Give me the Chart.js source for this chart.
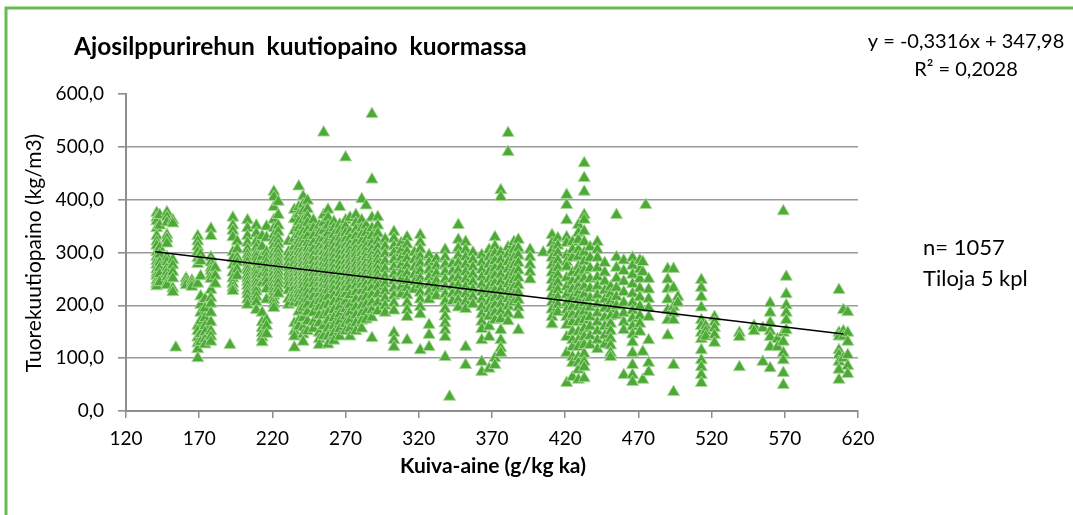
<!DOCTYPE html>
<html lang="fi">
<head>
<meta charset="utf-8">
<title>Ajosilppurirehun kuutiopaino kuormassa</title>
<script src="https://cdn.jsdelivr.net/npm/chart.js@4.4.1/dist/chart.umd.min.js"></script>
<style>
  html, body { margin: 0; padding: 0; background: #fff; }
  #kaavio { display: block; }
</style>
</head>
<body>
<canvas id="kaavio" width="1073" height="515"></canvas>
<script>
// --- DATA (luettu kuvasta) ---
// Jokainen rivi: [kuiva-aine g/kg, kuutiopaino kg/m3, kuutiopaino, ...]
const sarakkeet140_200 = [
  [141, 375, 366, 359, 346, 331, 321, 313, 301, 292, 284, 277, 268, 261, 256, 247, 241, 236],
  [143, 371, 351, 309, 296, 281, 271, 259, 244],
  [148, 376, 367, 357, 333, 326, 317, 291, 282, 271, 263, 253, 243, 238],
  [152, 361, 355, 286, 276, 263, 251, 232, 225],
  [154, 120],
  [161, 251, 244, 238],
  [165, 247, 241, 235],
  [169, 331, 321, 311, 301, 289, 278, 241, 161, 151, 139, 128, 117, 100],
  [171, 296, 284, 255, 217, 201, 186, 171, 146, 131],
  [174, 212, 194, 176, 161, 149, 136, 126],
  [178, 345, 331, 291, 281, 271, 265, 257, 250, 229, 214, 203, 186, 168, 151, 141, 131],
  [181, 271, 256, 241],
  [191, 125],
  [193, 366, 351, 341, 329, 301, 289, 276, 262, 251, 241, 233, 227],
  [196, 321, 306, 290, 281, 268, 256]
];

const sarakkeet200_260 = [
  [203, 361, 346, 331, 318, 306, 296, 288, 281, 272, 266, 258, 251, 244, 237, 228, 221, 211, 201],
  [209, 351, 336, 321, 309, 298, 291, 282, 271, 263, 256, 248, 241, 233, 226, 216, 206, 191],
  [213, 331, 311, 292, 276, 258, 242, 186, 168, 157, 148, 139, 130],
  [216, 349, 328, 301, 291, 281, 270, 261, 252, 243, 231, 211, 172, 161, 146],
  [221, 415, 405, 386, 362, 346, 333, 322, 313, 302, 294, 284, 276, 268, 261, 251, 242, 234, 226, 218, 210, 202, 195],
  [224, 396, 371, 351, 339, 326, 316, 306, 296, 288, 281, 272, 264, 256, 248, 241, 231, 222],
  [231, 321, 301, 291, 281, 271, 262, 254, 246, 238, 228, 212, 201],
  [235, 381, 363, 341, 326, 311, 298, 289, 279, 268, 259, 251, 242, 233, 222, 214, 205, 166, 151, 141, 120],
  [238, 425, 386, 372, 358, 346, 333, 321, 311, 301, 292, 284, 277, 268, 261, 252, 244, 236, 228, 221, 212, 204, 188, 171, 160],
  [241, 406, 391, 378, 361, 350, 338, 326, 316, 306, 296, 288, 279, 270, 262, 254, 246, 238, 228, 216, 206, 196, 176, 158, 145, 131],
  [244, 398, 382, 368, 356, 342, 331, 318, 308, 298, 291, 282, 274, 266, 258, 251, 242, 232, 222, 211, 201, 187, 170, 151],
  [248, 361, 346, 331, 318, 306, 294, 284, 272, 261, 251, 240, 228, 216, 201, 186, 168, 156],
  [252, 351, 336, 322, 311, 301, 291, 281, 271, 261, 251, 241, 231, 221, 208, 196, 181, 166, 148, 136, 125],
  [255, 527, 371, 356, 341, 326, 313, 301, 291, 281, 271, 261, 251, 241, 231, 221, 211, 198, 181, 161, 142],
  [258, 381, 366, 351, 336, 322, 311, 298, 288, 278, 268, 258, 248, 238, 228, 216, 201, 186, 171, 156, 141, 126]
];

const sarakkeet260_320 = [
  [262, 358, 346, 333, 321, 309, 298, 289, 279, 269, 259, 249, 239, 229, 218, 206, 191, 176, 161, 147, 133],
  [266, 386, 353, 341, 328, 317, 305, 295, 285, 275, 265, 255, 245, 235, 223, 211, 197, 183, 169, 155, 141],
  [270, 480, 361, 349, 337, 325, 313, 303, 293, 283, 273, 263, 253, 243, 233, 221, 207, 193, 179, 165, 151],
  [273, 366, 339, 327, 315, 305, 295, 285, 275, 265, 255, 245, 233, 219, 201, 186, 171, 156, 141],
  [277, 371, 356, 343, 331, 319, 307, 297, 287, 277, 267, 257, 247, 237, 225, 211, 196, 181, 166, 151],
  [281, 401, 361, 346, 333, 321, 309, 299, 289, 279, 269, 259, 249, 239, 227, 213, 199, 185, 171, 156],
  [284, 389, 351, 337, 323, 311, 301, 291, 281, 271, 261, 251, 239, 227, 215, 201, 187, 173],
  [288, 562, 438, 366, 346, 331, 317, 305, 295, 285, 275, 265, 255, 245, 233, 219, 205, 191, 177, 138],
  [292, 367, 351, 336, 321, 309, 297, 287, 277, 267, 257, 247, 235, 221, 205, 189],
  [297, 325, 311, 297, 283, 269, 255, 241, 227, 213, 199, 186],
  [303, 339, 326, 312, 299, 286, 272, 259, 246, 232, 218, 204, 190, 148, 134, 121],
  [308, 318, 304, 290, 276, 262, 249, 235, 221],
  [312, 329, 315, 301, 288, 274, 260, 246, 233, 219, 205, 191, 178, 134],
  [317, 300, 286, 272, 258, 244, 230]
];

const sarakkeet320_400 = [
  [321, 333, 319, 306, 292, 279, 265, 251, 238, 224, 211, 197, 183, 115],
  [327, 295, 281, 267, 253, 239, 225, 211, 163, 144, 121],
  [332, 288, 274, 260, 246, 232, 218],
  [338, 305, 291, 277, 263, 249, 235, 221, 207, 193, 179, 166, 153, 140, 102],
  [341, 27],
  [343, 278, 264, 250, 236, 222, 208],
  [347, 352, 324, 308, 294, 280, 266, 252, 238, 224, 210, 196],
  [352, 320, 305, 291, 277, 263, 249, 235, 221, 207, 193, 121, 87],
  [357, 300, 286, 272, 258, 244, 230, 216, 202],
  [363, 295, 281, 267, 253, 239, 225, 211, 197, 183, 169, 155, 134, 93, 74],
  [368, 305, 291, 277, 263, 249, 235, 221, 207, 193, 179, 160, 140, 80],
  [372, 329, 312, 298, 284, 270, 256, 242, 228, 214, 200, 186, 172, 100, 87],
  [376, 418, 405, 300, 286, 272, 258, 244, 230, 216, 202, 188, 174, 153, 134, 119, 110],
  [381, 526, 490, 310, 296, 282, 268, 254, 240, 226, 212, 198, 184, 170],
  [385, 320, 305, 290, 276, 262, 248, 234, 220, 206],
  [388, 324, 308, 294, 280, 266, 252, 238, 224, 210, 196, 182, 153],
  [396, 305, 291, 277, 263, 249]
];

const sarakkeet400_480 = [
  [405, 300],
  [411, 333, 318, 304, 290, 276, 262, 248, 234, 220, 206, 192, 178, 164],
  [415, 327, 313, 299, 285, 271, 257, 243, 229, 215, 201, 187],
  [421, 409, 390, 361, 329, 318, 295, 282, 273, 252, 235, 220, 204, 191, 178, 163, 140, 110, 53],
  [425, 320, 305, 290, 262, 245, 230, 214, 197, 182, 168, 150, 134, 121, 102, 91, 64],
  [429, 352, 337, 324, 305, 292, 273, 261, 248, 235, 223, 210, 197, 182, 168, 150, 134, 121, 102, 91, 78, 59],
  [433, 469, 441, 415, 371, 362, 340, 320, 300, 283, 266, 250, 235, 220, 204, 188, 172, 156, 140, 125, 108, 93, 83, 62],
  [437, 310, 290, 270, 250, 232, 214, 196, 178, 160, 142, 125],
  [442, 320, 305, 290, 271, 253, 236, 219, 202, 185, 168, 151, 134, 117],
  [447, 280, 262, 245, 228, 211, 194, 177, 160, 143, 126],
  [451, 235, 221, 207, 193, 179, 165, 151, 137, 124, 110, 102],
  [455, 371, 291, 271, 251, 233, 216, 199, 181],
  [460, 285, 265, 245, 225, 205, 185, 168, 153, 68],
  [466, 290, 275, 258, 240, 222, 205, 190, 175, 160, 145, 130, 110, 87, 68, 55],
  [471, 285, 268, 250, 232, 215, 198, 180, 165, 150],
  [473, 282, 263, 112, 59],
  [475, 390],
  [477, 250, 230, 212, 195, 178, 134, 91, 74]
];

const sarakkeet480_620 = [
  [490, 269, 249, 231, 211, 191, 172, 143],
  [494, 269, 233, 197, 185, 172, 87, 36],
  [497, 216, 205],
  [513, 248, 233, 216, 196, 172, 161, 148, 136, 115, 96, 83, 68, 53],
  [516, 161, 151, 141],
  [522, 178, 168, 157, 144, 129],
  [539, 148, 140, 83],
  [549, 161, 151],
  [555, 157, 93],
  [560, 204, 186, 167, 151, 140, 121, 81],
  [565, 136, 121],
  [569, 378, 148, 131, 110, 96, 72, 49],
  [571, 254, 221, 200, 186, 172, 153],
  [607, 229, 148, 141, 115, 106, 93, 78, 59],
  [610, 191, 151, 141, 100],
  [613, 187, 148, 131, 106, 85, 70]
];

// Lineaarinen trendi (kuvan yhtälö)
const trendiKerroin = -0.3316;
const trendiVakio = 347.98;
const trendiX = [140, 610];

// Akselit
const xAkseli = { min: 120, max: 620, askel: 50 };
const yAkseli = { min: 0, max: 600, askel: 100 };

// --- APUFUNKTIOT ---

function pisteet(...ryhmat) {
  const tulos = [];
  ryhmat.forEach(ryhma => ryhma.forEach(([x, ...ys]) => ys.forEach(y => tulos.push({ x, y }))));
  return tulos;
}

const kaikkiPisteet = pisteet(
  sarakkeet140_200, sarakkeet200_260, sarakkeet260_320,
  sarakkeet320_400, sarakkeet400_480, sarakkeet480_620
);
const trendiPisteet = trendiX.map(x => ({ x, y: trendiKerroin * x + trendiVakio }));

const FONTTI = 'Lato, "Open Sans", sans-serif';
const VIHREA = '#4EAA36';

// Tekstit ja kehys piirretään itse, jotta paikat osuvat kuvaan
const koristeet = {
  id: 'koristeet',
  beforeDraw(chart) {
    const c = chart.ctx;
    c.save();
    c.fillStyle = '#fff';
    c.fillRect(0, 0, chart.width, chart.height);
    c.strokeStyle = '#66BB55';
    c.lineWidth = 3;
    c.beginPath();
    c.moveTo(6, chart.height);
    c.lineTo(6, 8);
    c.lineTo(chart.width, 8);
    c.stroke();
    c.restore();
  },
  afterDraw(chart) {
    const c = chart.ctx;
    c.save();
    c.fillStyle = '#000';
    c.textBaseline = 'alphabetic';

    c.font = `bold 24.5px ${FONTTI}`;
    c.textAlign = 'left';
    c.fillText('Ajosilppurirehun  kuutiopaino  kuormassa', 74, 55);

    c.font = `20px ${FONTTI}`;
    c.textAlign = 'center';
    c.fillText('y = -0,3316x + 347,98', 966, 48);
    c.fillText('R² = 0,2028', 966, 76);

    c.font = `22px ${FONTTI}`;
    c.textAlign = 'left';
    c.fillText('n= 1057', 923, 255);
    c.fillText('Tiloja 5 kpl', 923, 286);

    c.font = `bold 21px ${FONTTI}`;
    c.textAlign = 'center';
    c.textBaseline = 'middle';
    c.fillText('Kuiva-aine (g/kg ka)', 493, 466);

    c.translate(34, 253);
    c.rotate(-Math.PI / 2);
    c.font = `21px ${FONTTI}`;
    c.fillText('Tuorekuutiopaino (kg/m3)', 0, 0);
    c.restore();
  }
};

new Chart(document.getElementById('kaavio'), {
  type: 'scatter',
  data: {
    datasets: [
      {
        label: 'Trendi',
        data: trendiPisteet,
        showLine: true,
        borderColor: '#000',
        borderWidth: 1.6,
        pointRadius: 0,
        order: 0
      },
      {
        label: 'Kuutiopaino',
        data: kaikkiPisteet,
        pointStyle: 'triangle',
        pointRadius: 7,
        pointHoverRadius: 7,
        backgroundColor: VIHREA,
        borderColor: '#A9D99A',
        borderWidth: 0.9,
        order: 1
      }
    ]
  },
  options: {
    responsive: false,
    animation: false,
    events: [],
    layout: { padding: { left: 0, top: 94, right: 215, bottom: 0 } },
    plugins: { legend: { display: false }, tooltip: { enabled: false } },
    scales: {
      x: {
        type: 'linear',
        min: xAkseli.min,
        max: xAkseli.max,
        afterFit(scale) { scale.height = 104; },
        ticks: {
          stepSize: xAkseli.askel,
          color: '#000',
          font: { family: FONTTI, size: 19 },
          padding: 9
        },
        grid: { drawOnChartArea: false, tickLength: 7, color: '#8E8E8E', lineWidth: 1.5 },
        border: { color: '#8E8E8E', width: 2 }
      },
      y: {
        min: yAkseli.min,
        max: yAkseli.max,
        afterFit(scale) { scale.width = 126; },
        ticks: {
          stepSize: yAkseli.askel,
          color: '#000',
          font: { family: FONTTI, size: 19 },
          padding: 14,
          callback: v => v.toFixed(1).replace('.', ',')
        },
        grid: {
          tickLength: 8,
          lineWidth: 1.6,
          color: ctx => (ctx.tick && (ctx.tick.value === yAkseli.max || ctx.tick.value === yAkseli.min)) ? 'rgba(0,0,0,0)' : '#9A9A9A',
          tickColor: '#8E8E8E'
        },
        border: { color: '#8E8E8E', width: 2 }
      }
    }
  },
  plugins: [koristeet]
});
</script>
</body>
</html>
